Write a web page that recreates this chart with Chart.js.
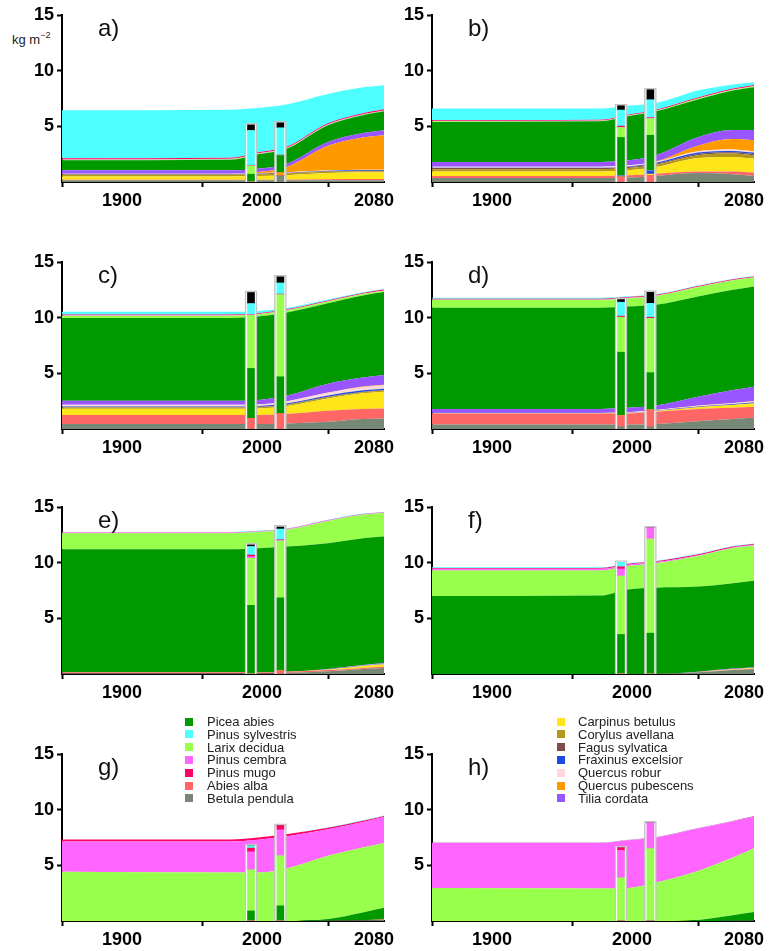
<!DOCTYPE html>
<html>
<head>
<meta charset="utf-8">
<script src="https://cdn.jsdelivr.net/npm/chart.js@4.4.0/dist/chart.umd.min.js"></script>
<style>
body{margin:0;background:#fff;width:770px;height:951px;overflow:hidden;position:relative;font-family:"Liberation Sans",Arial,sans-serif;}
.letter{position:absolute;font-size:24px;line-height:24px;color:#111;}
.unit{position:absolute;left:12px;top:33px;font-size:13px;line-height:14px;color:#222;white-space:nowrap;}
.unit sup{font-size:9px;vertical-align:6px;line-height:0;}
.leg{position:absolute;font-size:13px;line-height:13px;color:#222;white-space:nowrap;}
.leg span{position:absolute;left:0;top:2.5px;width:8px;height:8px;}
</style>
</head>
<body>
<div class="unit">kg m<sup>−2</sup></div>
<script>
// time axis of the simulations and the two inventory bars
const years = [1850, 1970, 1990, 2010, 2040, 2065, 2080];
const nfiYears = [1985, 2006];
const xTicks = [1900, 2000, 2080];
const yTicks = [5, 10, 15];

const species = ['Picea abies', 'Pinus sylvestris', 'Larix decidua', 'Pinus cembra', 'Pinus mugo',
  'Abies alba', 'Betula pendula', 'Carpinus betulus', 'Corylus avellana', 'Fagus sylvatica',
  'Fraxinus excelsior', 'Quercus robur', 'Quercus pubescens', 'Tilia cordata'];
const colors = ['#009900', '#4dffff', '#99ff4d', '#ff66ff', '#ff0066', '#ff6666', '#778877',
  '#ffe619', '#b3981a', '#7f4d4d', '#1a4de6', '#ffd9d9', '#ff9900', '#9955ff'];
// bottom -> top order of the stack
const stackOrder = [6, 5, 7, 8, 9, 10, 11, 12, 13, 0, 2, 3, 4, 1];

// rows follow the species list, columns follow years
const areaA = [
  [0.9, 0.95, 1.3, 1.35, 1.5, 1.6, 1.7],
  [4.31, 4.32, 3.97, 3.8, 2.62, 2.32, 2.17],
  [0.05, 0.05, 0.05, 0.05, 0.05, 0.05, 0.05],
  [0.03, 0.03, 0.03, 0.03, 0.03, 0.03, 0.03],
  [0.1, 0.1, 0.1, 0.1, 0.1, 0.1, 0.1],
  [0.05, 0.05, 0.05, 0.06, 0.1, 0.12, 0.12],
  [0.15, 0.15, 0.15, 0.15, 0.15, 0.15, 0.15],
  [0.3, 0.3, 0.35, 0.4, 0.55, 0.6, 0.6],
  [0.15, 0.15, 0.15, 0.15, 0.12, 0.1, 0.1],
  [0.05, 0.05, 0.05, 0.05, 0.05, 0.05, 0.05],
  [0.02, 0.02, 0.02, 0.03, 0.05, 0.05, 0.05],
  [0.03, 0.03, 0.03, 0.03, 0.03, 0.03, 0.03],
  [0, 0, 0.1, 0.45, 2.2, 2.9, 3.1],
  [0.3, 0.3, 0.3, 0.3, 0.35, 0.4, 0.45]
];
const nfiA = [[0.7, 1.5], [3.15, 2.45], [0.75, 0], [0, 0], [0.03, 0.05], [0, 0.05], [0, 0.55],
  [0, 0], [0, 0], [0, 0], [0, 0], [0, 0], [0, 0.25], [0, 0.02]];
const otherA = [0.5, 0.45];

const areaB = [
  [3.6, 3.65, 3.95, 3.95, 3.4, 3.55, 3.85],
  [1.05, 1.0, 0.8, 0.6, 0.62, 0.37, 0.25],
  [0.05, 0.05, 0.05, 0.05, 0.08, 0.08, 0.1],
  [0.02, 0.02, 0.02, 0.02, 0.02, 0.02, 0.02],
  [0.08, 0.08, 0.08, 0.08, 0.08, 0.08, 0.08],
  [0.2, 0.2, 0.2, 0.2, 0.15, 0.25, 0.3],
  [0.35, 0.35, 0.4, 0.55, 0.8, 0.7, 0.55],
  [0.4, 0.4, 0.45, 0.6, 1.2, 1.3, 1.25],
  [0.2, 0.2, 0.2, 0.2, 0.25, 0.3, 0.3],
  [0.1, 0.1, 0.1, 0.1, 0.12, 0.12, 0.12],
  [0.03, 0.03, 0.05, 0.08, 0.12, 0.12, 0.12],
  [0.1, 0.1, 0.1, 0.1, 0.12, 0.12, 0.12],
  [0, 0, 0, 0.02, 0.5, 0.95, 1.0],
  [0.42, 0.42, 0.45, 0.55, 0.75, 0.8, 0.9]
];
const nfiB = [[3.45, 3.2], [1.44, 1.6], [0.9, 1.5], [0, 0.05], [0.12, 0.04], [0.45, 0.6], [0, 0],
  [0, 0.1], [0, 0], [0, 0], [0.1, 0.3], [0, 0], [0, 0], [0, 0]];
const otherB = [0.39, 0.9];

const areaC = [
  [7.44, 7.44, 7.49, 7.47, 7.23, 7.38, 7.46],
  [0.25, 0.25, 0.2, 0.12, 0.08, 0.06, 0.05],
  [0.2, 0.2, 0.2, 0.2, 0.15, 0.12, 0.12],
  [0.03, 0.03, 0.03, 0.03, 0.03, 0.03, 0.03],
  [0.07, 0.07, 0.07, 0.07, 0.07, 0.07, 0.07],
  [0.8, 0.8, 0.8, 0.85, 1.0, 0.9, 0.9],
  [0.45, 0.45, 0.45, 0.5, 0.65, 0.9, 0.95],
  [0.57, 0.57, 0.6, 0.7, 1.1, 1.4, 1.5],
  [0.1, 0.1, 0.1, 0.1, 0.1, 0.1, 0.1],
  [0.05, 0.05, 0.05, 0.05, 0.05, 0.05, 0.05],
  [0.05, 0.05, 0.06, 0.08, 0.1, 0.12, 0.12],
  [0.15, 0.15, 0.15, 0.2, 0.25, 0.3, 0.3],
  [0, 0, 0, 0, 0.02, 0.05, 0.05],
  [0.37, 0.37, 0.4, 0.5, 0.8, 0.8, 0.87]
];
const nfiC = [[4.48, 3.29], [1.0, 1.0], [4.78, 7.38], [0.05, 0], [0, 0.05], [0.96, 1.4], [0, 0],
  [0, 0], [0, 0], [0, 0], [0, 0], [0, 0], [0, 0], [0, 0]];
const otherC = [0.99, 0.55];

const areaD = [
  [9.1, 9.1, 9.1, 9.05, 9.0, 9.0, 9.0],
  [0.1, 0.1, 0.08, 0.06, 0.05, 0.05, 0.05],
  [0.7, 0.7, 0.75, 0.8, 0.85, 0.85, 0.8],
  [0.03, 0.03, 0.03, 0.03, 0.03, 0.03, 0.03],
  [0.07, 0.07, 0.07, 0.07, 0.07, 0.07, 0.07],
  [1.0, 1.0, 1.0, 1.1, 1.1, 1.0, 1.0],
  [0.4, 0.4, 0.4, 0.45, 0.7, 0.9, 1.0],
  [0.02, 0.02, 0.03, 0.05, 0.15, 0.25, 0.3],
  [0.01, 0.01, 0.01, 0.01, 0.01, 0.01, 0.01],
  [0.01, 0.01, 0.01, 0.01, 0.01, 0.01, 0.01],
  [0.01, 0.01, 0.02, 0.03, 0.05, 0.07, 0.08],
  [0.02, 0.02, 0.03, 0.05, 0.07, 0.08, 0.1],
  [0, 0, 0, 0, 0.01, 0.02, 0.02],
  [0.33, 0.33, 0.4, 0.4, 0.8, 1.16, 1.28]
];
const nfiD = [[5.7, 3.36], [1.25, 1.25], [3.14, 4.88], [0, 0], [0.1, 0.1], [1.0, 1.5], [0.2, 0.2],
  [0, 0], [0, 0], [0, 0], [0, 0], [0, 0], [0, 0], [0, 0]];
const otherD = [0.24, 0.99];

const areaE = [
  [11.05, 11.05, 11.15, 11.25, 11.3, 11.39, 11.37],
  [0.03, 0.03, 0.03, 0.03, 0.03, 0.03, 0.03],
  [1.45, 1.45, 1.45, 1.5, 2.0, 2.1, 2.1],
  [0.05, 0.05, 0.05, 0.05, 0.05, 0.05, 0.05],
  [0.03, 0.03, 0.03, 0.03, 0.03, 0.03, 0.03],
  [0.1, 0.1, 0.1, 0.1, 0.1, 0.1, 0.1],
  [0.05, 0.05, 0.05, 0.1, 0.25, 0.45, 0.55],
  [0, 0, 0, 0, 0.05, 0.15, 0.2],
  [0, 0, 0, 0, 0.01, 0.02, 0.02],
  [0, 0, 0, 0, 0, 0, 0],
  [0, 0, 0, 0, 0.01, 0.02, 0.02],
  [0, 0, 0, 0, 0.01, 0.02, 0.02],
  [0, 0, 0, 0, 0, 0, 0],
  [0, 0, 0, 0, 0.02, 0.05, 0.07]
];
const nfiE = [[6.17, 6.54], [0.76, 0.96], [4.22, 5.12], [0.15, 0.05], [0.15, 0.05], [0, 0.3], [0, 0],
  [0, 0], [0, 0], [0, 0], [0, 0], [0, 0], [0, 0], [0, 0]];
const otherE = [0.15, 0.18];

const areaF = [
  [7.0, 7.05, 7.6, 7.75, 7.64, 7.67, 7.77],
  [0.05, 0.05, 0.05, 0.05, 0.05, 0.05, 0.05],
  [2.3, 2.25, 2.1, 2.2, 2.75, 3.15, 3.17],
  [0.15, 0.15, 0.12, 0.1, 0.07, 0.06, 0.05],
  [0.08, 0.08, 0.08, 0.08, 0.08, 0.08, 0.08],
  [0, 0, 0, 0, 0.02, 0.03, 0.03],
  [0, 0, 0, 0, 0.15, 0.35, 0.45],
  [0, 0, 0, 0, 0.02, 0.05, 0.06],
  [0, 0, 0, 0, 0, 0, 0],
  [0, 0, 0, 0, 0, 0, 0],
  [0, 0, 0, 0, 0, 0.01, 0.01],
  [0, 0, 0, 0, 0, 0, 0],
  [0, 0, 0, 0, 0, 0, 0],
  [0, 0, 0, 0, 0.02, 0.05, 0.06]
];
const nfiF = [[3.55, 3.67], [0.4, 0], [5.25, 8.45], [0.63, 1.0], [0.2, 0], [0, 0], [0, 0],
  [0, 0], [0, 0], [0, 0], [0, 0], [0, 0], [0, 0], [0, 0]];
const otherF = [0, 0];

const areaG = [
  [0, 0, 0, 0, 0.15, 0.7, 1.05],
  [0, 0, 0, 0, 0.02, 0.04, 0.05],
  [4.43, 4.35, 4.35, 4.7, 5.67, 5.83, 5.82],
  [2.72, 2.8, 2.95, 2.9, 2.4, 2.3, 2.35],
  [0.17, 0.17, 0.2, 0.2, 0.12, 0.1, 0.08],
  [0, 0, 0, 0, 0.01, 0.02, 0.03],
  [0, 0, 0, 0, 0.02, 0.05, 0.1],
  [0, 0, 0, 0, 0, 0, 0],
  [0, 0, 0, 0, 0, 0, 0],
  [0, 0, 0, 0, 0, 0, 0],
  [0, 0, 0, 0, 0, 0, 0],
  [0, 0, 0, 0, 0, 0, 0],
  [0, 0, 0, 0, 0, 0, 0],
  [0, 0, 0, 0, 0, 0, 0]
];
const nfiG = [[0.9, 1.36], [0.2, 0], [3.7, 4.51], [1.62, 2.32], [0.33, 0.39], [0, 0], [0, 0],
  [0, 0], [0, 0], [0, 0], [0, 0], [0, 0], [0, 0], [0, 0]];
const otherG = [0, 0];

const areaH = [
  [0, 0, 0, 0, 0.1, 0.5, 0.77],
  [0.02, 0.02, 0.02, 0.02, 0.02, 0.02, 0.02],
  [2.96, 2.92, 2.95, 3.45, 4.4, 5.18, 5.73],
  [4.04, 4.08, 4.3, 4.05, 3.8, 3.25, 2.84],
  [0.03, 0.03, 0.03, 0.03, 0.03, 0.03, 0.03],
  [0, 0, 0, 0, 0, 0, 0],
  [0, 0, 0, 0, 0, 0.02, 0.03],
  [0, 0, 0, 0, 0, 0, 0],
  [0, 0, 0, 0, 0, 0, 0],
  [0, 0, 0, 0, 0, 0, 0],
  [0, 0, 0, 0, 0, 0, 0],
  [0, 0, 0, 0, 0, 0, 0],
  [0, 0, 0, 0, 0, 0, 0],
  [0, 0, 0, 0, 0, 0, 0]
];
const nfiH = [[0, 0], [0, 0], [3.87, 6.5], [2.48, 2.3], [0.24, 0], [0, 0], [0, 0],
  [0, 0], [0, 0], [0, 0], [0, 0], [0, 0], [0, 0], [0, 0]];
const otherH = [0, 0];

const panels = [
  {letter: 'a)', area: areaA, nfi: nfiA, other: otherA},
  {letter: 'b)', area: areaB, nfi: nfiB, other: otherB},
  {letter: 'c)', area: areaC, nfi: nfiC, other: otherC},
  {letter: 'd)', area: areaD, nfi: nfiD, other: otherD},
  {letter: 'e)', area: areaE, nfi: nfiE, other: otherE},
  {letter: 'f)', area: areaF, nfi: nfiF, other: otherF},
  {letter: 'g)', area: areaG, nfi: nfiG, other: otherG},
  {letter: 'h)', area: areaH, nfi: nfiH, other: otherH}
];

const rowTops = [0, 247, 492, 739];

Chart.defaults.font.family = '"Liberation Sans", Arial, sans-serif';
Chart.defaults.color = '#000';

function axisGrid() {
  return {drawOnChartArea: false, drawTicks: true, tickLength: 5, tickWidth: 2, tickColor: '#000'};
}

function buildPanel(p, k) {
  const col = k % 2, row = Math.floor(k / 2);
  const left = col * 370, top = rowTops[row];

  const cv = document.createElement('canvas');
  cv.width = 410; cv.height = 215;
  cv.style.cssText = 'position:absolute;left:' + left + 'px;top:' + top + 'px;';
  document.body.appendChild(cv);

  const lab = document.createElement('div');
  lab.className = 'letter';
  lab.style.left = (left + 98) + 'px';
  lab.style.top = (top + 16) + 'px';
  lab.textContent = p.letter;
  document.body.appendChild(lab);

  const datasets = [];
  stackOrder.forEach(function(s, i) {
    datasets.push({
      type: 'line', label: species[s],
      data: years.map((x, j) => ({x: x, y: p.area[s][j]})),
      backgroundColor: colors[s], borderColor: 'transparent', borderWidth: 0,
      pointRadius: 0, fill: i === 0 ? 'origin' : '-1',
      cubicInterpolationMode: 'monotone', stack: 'area', order: 3
    });
  });

  // white frame behind each inventory bar
  const totals = nfiYears.map((x, j) => stackOrder.reduce((t, s) => t + p.nfi[s][j], 0) + p.other[j]);
  datasets.push({
    type: 'bar', label: 'frame',
    data: nfiYears.map((x, j) => ({x: x, y: totals[j] + 0.15})),
    backgroundColor: '#fff', borderColor: '#c4c4c4', borderWidth: 1.5,
    barThickness: 12, grouped: false, stack: 'frame', order: 2
  });
  stackOrder.forEach(function(s) {
    datasets.push({
      type: 'bar', label: species[s],
      data: nfiYears.map((x, j) => ({x: x, y: p.nfi[s][j]})),
      backgroundColor: colors[s], borderWidth: 0,
      barThickness: 7, grouped: false, stack: 'nfi', order: 1
    });
  });
  datasets.push({
    type: 'bar', label: 'other',
    data: nfiYears.map((x, j) => ({x: x, y: p.other[j]})),
    backgroundColor: '#000', borderWidth: 0,
    barThickness: 7, grouped: false, stack: 'nfi', order: 1
  });

  new Chart(cv, {
    type: 'line',
    data: {datasets: datasets},
    options: {
      responsive: false,
      animation: false,
      events: [],
      layout: {padding: {top: 15, right: 26, bottom: 0, left: 0}},
      plugins: {legend: {display: false}, tooltip: {enabled: false}},
      scales: {
        x: {
          type: 'linear', min: 1850, max: 2080, offset: false, z: 1,
          afterBuildTicks: s => { s.ticks = xTicks.map(v => ({value: v})); },
          afterFit: s => { s.height = 33; },
          grid: axisGrid(),
          border: {display: true, color: '#000', width: 2},
          ticks: {font: {size: 18, weight: 'bold'}, color: '#000', padding: 3, labelOffset: -10,
            maxRotation: 0, autoSkip: false, callback: v => String(v)}
        },
        y: {
          type: 'linear', min: 0, max: 15, stacked: true, z: 1,
          afterBuildTicks: s => { s.ticks = yTicks.map(v => ({value: v})); },
          afterFit: s => { s.width = 62; },
          grid: axisGrid(),
          border: {display: true, color: '#000', width: 2},
          ticks: {font: {size: 18, weight: 'bold'}, color: '#000', padding: 3, callback: v => String(v)}
        }
      }
    }
  });
}

panels.forEach(buildPanel);

// legend, two columns of seven
species.forEach(function(name, i) {
  const col = i < 7 ? 0 : 1, r = i % 7;
  const d = document.createElement('div');
  d.className = 'leg';
  d.style.left = (col === 0 ? 185 : 557) + 'px';
  d.style.top = (715 + r * 12.8) + 'px';
  d.style.paddingLeft = (col === 0 ? 22 : 21) + 'px';
  const sw = document.createElement('span');
  sw.style.background = colors[i];
  d.appendChild(sw);
  d.appendChild(document.createTextNode(name));
  document.body.appendChild(d);
});
</script>
</body>
</html>
